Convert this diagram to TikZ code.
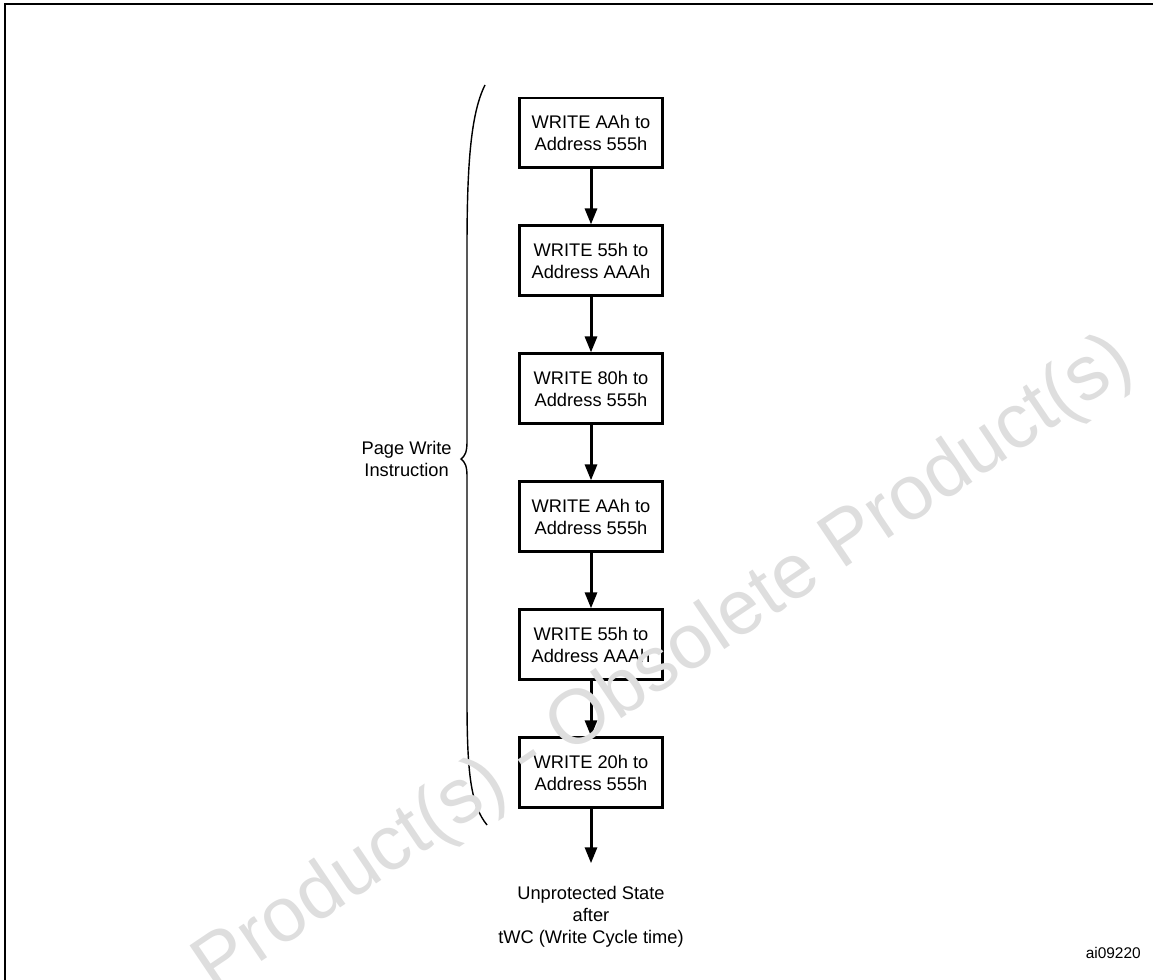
\documentclass[tikz,border=0pt]{standalone}
\usepackage{fontspec}
\setmainfont{Liberation Sans}
\usetikzlibrary{positioning, arrows.meta}

\begin{document}
\begin{tikzpicture}[
    x=0.02cm, y=-0.02cm,
    every node/.style={align=center, font=\fontsize{10.4}{12.5}\selectfont},
    caja/.style={draw, line width=1.7pt, minimum width=2.86cm, minimum height=1.40cm, inner sep=0pt},
    flecha/.style={line width=1.7pt, -{Triangle[length=3.2mm, width=2.4mm]}},
    node distance=1.1cm
]
\useasboundingbox (0,0) rectangle (1153,980);

% Marco
\draw[line width=1.1pt] (1153,4) -- (5,4) -- (5,980);

% Nodos
\node[caja] (b1) at (591,133) {WRITE AAh to\\Address 555h};
\node[caja] (b2) [below=of b1] {WRITE 55h to\\Address AAAh};
\node[caja] (b3) [below=of b2] {WRITE 80h to\\Address 555h};
\node[caja] (b4) [below=of b3] {WRITE AAh to\\Address 555h};
\node[caja] (b5) [below=of b4] {WRITE 55h to\\Address AAAh};
\node[caja] (b6) [below=of b5] {WRITE 20h to\\Address 555h};
\node (state) [below=1.08cm of b6, inner ysep=0.46cm] {Unprotected State\\after\\tWC (Write Cycle time)};

% Flechas
\foreach \a/\b in {b1/b2, b2/b3, b3/b4, b4/b5, b5/b6, b6/state}
  \draw[flecha] (\a) -- (\b);

% Llave
\draw[line width=0.8pt] (485,85) .. controls (470,115) and (467,170) .. (467,250) -- (467,442)
  .. controls (467,452) and (465,456) .. (461,459)
  .. controls (465,462) and (467,466) .. (467,476) -- (467,700)
  .. controls (467,775) and (471,805) .. (487,825);
\coordinate (tip) at (461,459);
\node (pw) [left=0.18cm of tip, inner sep=0pt] {Page Write\\Instruction};

\node (id) [anchor=base east, font=\fontsize{8.8}{10}\selectfont] at (1147,958) {ai09220};

% Marca de agua
\node (wm) [anchor=base, rotate=34, text=black!13, font=\fontsize{44}{44}\selectfont] at (676,682) {Product(s) - Obsolete Product(s)};

\end{tikzpicture}
\end{document}
